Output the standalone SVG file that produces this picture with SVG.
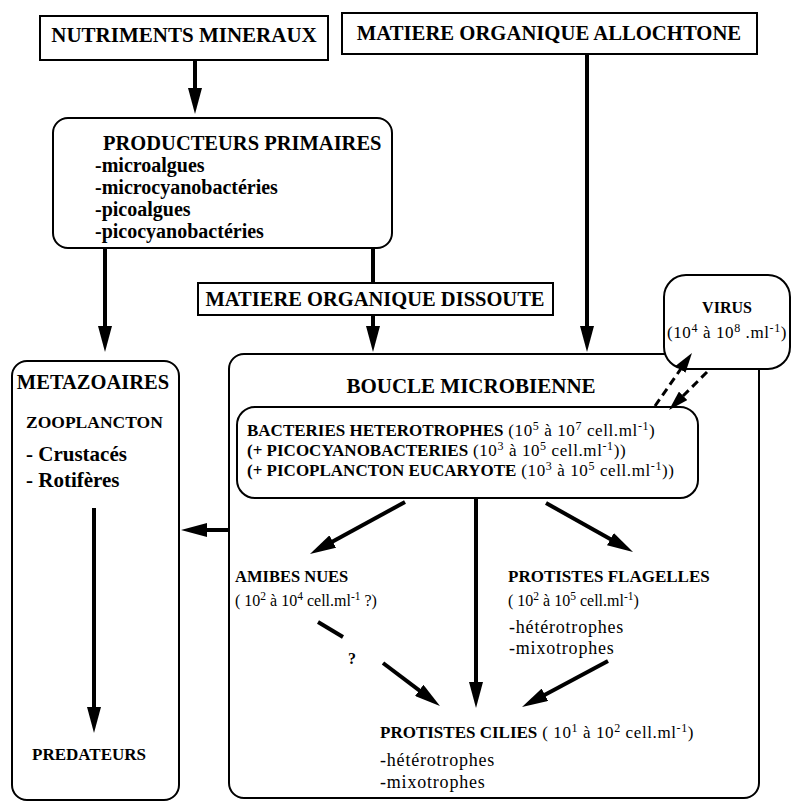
<svg xmlns="http://www.w3.org/2000/svg" width="792" height="803" viewBox="0 0 792 803">
<style>
.box{fill:#fff;stroke:#000;stroke-width:2}
.t{font-family:"Liberation Serif","Times New Roman",serif;fill:#000}
.b{font-weight:bold}
.r{letter-spacing:0.6px}
.ln{stroke:#000;stroke-width:4;fill:none}
.dl{stroke:#000;stroke-width:3;fill:none;stroke-dasharray:8 5}
</style>
<defs>
<marker id="ah" viewBox="0 0 26 14" refX="10" refY="7" markerWidth="26" markerHeight="14" markerUnits="userSpaceOnUse" orient="auto">
<path d="M0,0 L26,7 L0,14 z" fill="#000"/>
</marker>
<marker id="ahs" viewBox="0 0 20 12" refX="8" refY="6" markerWidth="20" markerHeight="12" markerUnits="userSpaceOnUse" orient="auto">
<path d="M0,0 L20,6 L0,12 z" fill="#000"/>
</marker>
</defs>
<rect width="792" height="803" fill="#fff"/>

<g id="nutriments">
<rect class="box" x="40" y="16" width="288" height="44"/>
<text class="t b" x="184" y="42" font-size="21" text-anchor="middle">NUTRIMENTS MINERAUX</text>
</g>
<g id="allochtone">
<rect class="box" x="342" y="13" width="415" height="41"/>
<text class="t b" x="549" y="40" font-size="20.7" text-anchor="middle">MATIERE ORGANIQUE ALLOCHTONE</text>
</g>
<g id="producteurs">
<rect class="box" x="53" y="118" width="339" height="130" rx="15"/>
<text class="t b" x="103" y="150" font-size="20.5">PRODUCTEURS PRIMAIRES</text>
<text class="t b" x="95" y="172" font-size="20">-microalgues</text>
<text class="t b" x="95" y="194" font-size="20">-microcyanobactéries</text>
<text class="t b" x="95" y="216" font-size="20">-picoalgues</text>
<text class="t b" x="95" y="238" font-size="20">-picocyanobactéries</text>
</g>
<g id="dissoute">
<rect class="box" x="198" y="283" width="355" height="32"/>
<text class="t b" x="375" y="306" font-size="20.5" text-anchor="middle">MATIERE ORGANIQUE DISSOUTE</text>
</g>
<g id="metazoaires">
<rect class="box" x="12" y="361" width="167" height="439" rx="15"/>
<text class="t b" x="93" y="389" font-size="20.5" text-anchor="middle">METAZOAIRES</text>
<text class="t b" x="26" y="428" font-size="17.5">ZOOPLANCTON</text>
<text class="t b" x="26" y="461" font-size="21">- Crustacés</text>
<text class="t b" x="26" y="487" font-size="21">- Rotifères</text>
<text class="t b" x="32" y="760" font-size="17">PREDATEURS</text>
</g>
<g id="boucle">
<rect class="box" x="229" y="354" width="530" height="444" rx="15"/>
<text class="t b" x="471" y="393" font-size="21" text-anchor="middle">BOUCLE MICROBIENNE</text>
</g>
<g id="virus">
<rect class="box" x="664" y="275" width="126" height="94" rx="22"/>
<text class="t b" x="727" y="313" font-size="16" text-anchor="middle">VIRUS</text>
<text class="t r" x="667" y="338" font-size="17">(10<tspan dy="-6" font-size="12">4</tspan><tspan dy="6"> à 10</tspan><tspan dy="-6" font-size="12">8</tspan><tspan dy="6"> .ml</tspan><tspan dy="-6" font-size="12">-1</tspan><tspan dy="6">)</tspan></text>
</g>
<g id="bacteries">
<rect class="box" x="237" y="407" width="461" height="91" rx="18"/>
<text class="t r" x="247" y="436" font-size="17"><tspan class="b" font-size="17" letter-spacing="0">BACTERIES HETEROTROPHES</tspan>  (10<tspan dy="-6" font-size="12">5</tspan><tspan dy="6"> à 10</tspan><tspan dy="-6" font-size="12">7</tspan><tspan dy="6"> cell.ml</tspan><tspan dy="-6" font-size="12">-1</tspan><tspan dy="6">)</tspan></text>
<text class="t r" x="247" y="456" font-size="17"><tspan class="b" font-size="17" letter-spacing="0">(+ PICOCYANOBACTERIES</tspan> (10<tspan dy="-6" font-size="12">3</tspan><tspan dy="6"> à 10</tspan><tspan dy="-6" font-size="12">5</tspan><tspan dy="6"> cell.ml</tspan><tspan dy="-6" font-size="12">-1</tspan><tspan dy="6">))</tspan></text>
<text class="t r" x="247" y="476" font-size="17"><tspan class="b" font-size="17" letter-spacing="0">(+ PICOPLANCTON EUCARYOTE</tspan>  (10<tspan dy="-6" font-size="12">3</tspan><tspan dy="6"> à 10</tspan><tspan dy="-6" font-size="12">5</tspan><tspan dy="6"> cell.ml</tspan><tspan dy="-6" font-size="12">-1</tspan><tspan dy="6">))</tspan></text>
</g>
<g id="amibes">
<text class="t b" x="235" y="582" font-size="16.5">AMIBES NUES</text>
<text class="t" x="235" y="606" font-size="16">( 10<tspan dy="-6" font-size="11.5">2</tspan><tspan dy="6"> à 10</tspan><tspan dy="-6" font-size="11.5">4</tspan><tspan dy="6"> cell.ml</tspan><tspan dy="-6" font-size="11.5">-1</tspan><tspan dy="6"> ?)</tspan></text>
</g>
<g id="flagelles">
<text class="t b" x="508" y="582" font-size="17">PROTISTES FLAGELLES</text>
<text class="t" x="508" y="606" font-size="16">( 10<tspan dy="-6" font-size="11.5">2</tspan><tspan dy="6"> à 10</tspan><tspan dy="-6" font-size="11.5">5</tspan><tspan dy="6"> cell.ml</tspan><tspan dy="-6" font-size="11.5">-1</tspan><tspan dy="6">)</tspan></text>
<text class="t" x="509" y="633" font-size="18" letter-spacing="0.8">-hétérotrophes</text>
<text class="t" x="509" y="654" font-size="18" letter-spacing="0.8">-mixotrophes</text>
</g>
<g id="cilies">
<text class="t r" x="380" y="738" font-size="17"><tspan class="b" letter-spacing="0">PROTISTES CILIES</tspan> ( 10<tspan dy="-6" font-size="12">1</tspan><tspan dy="6"> à 10</tspan><tspan dy="-6" font-size="12">2</tspan><tspan dy="6"> cell.ml</tspan><tspan dy="-6" font-size="12">-1</tspan><tspan dy="6">)</tspan></text>
<text class="t" x="380" y="766" font-size="18" letter-spacing="0.8">-hétérotrophes</text>
<text class="t" x="380" y="788" font-size="18" letter-spacing="0.8">-mixotrophes</text>
</g>

<g id="connectors">
<line class="ln" x1="195" y1="60" x2="195" y2="98" marker-end="url(#ah)"/>
<line class="ln" x1="587" y1="54" x2="587" y2="336" marker-end="url(#ah)"/>
<line class="ln" x1="105" y1="248" x2="105" y2="336" marker-end="url(#ah)"/>
<line class="ln" x1="373" y1="248" x2="373" y2="283"/>
<line class="ln" x1="373" y1="315" x2="373" y2="336" marker-end="url(#ah)"/>
<line class="ln" x1="229" y1="530" x2="197" y2="530" marker-end="url(#ah)"/>
<line class="ln" x1="94" y1="508" x2="94" y2="717" marker-end="url(#ah)"/>
<line class="ln" x1="405" y1="502" x2="324" y2="546.3" marker-end="url(#ah)"/>
<line class="ln" x1="476" y1="498" x2="476" y2="692" marker-end="url(#ah)"/>
<line class="ln" x1="546" y1="503" x2="619.1" y2="544.1" marker-end="url(#ah)"/>
<line class="ln" x1="318" y1="622" x2="343" y2="637"/>
<line class="ln" x1="383" y1="663" x2="427.2" y2="696.4" marker-end="url(#ah)"/>
<line class="ln" x1="608" y1="661" x2="536.1" y2="699.5" marker-end="url(#ah)"/>
<line class="dl" x1="655" y1="406" x2="685.1" y2="362.8" marker-end="url(#ahs)"/>
<line class="dl" x1="707" y1="372" x2="677.5" y2="401.5" marker-end="url(#ahs)"/>
<text class="t b" x="352" y="664" font-size="16" text-anchor="middle">?</text>
</g>
</svg>
